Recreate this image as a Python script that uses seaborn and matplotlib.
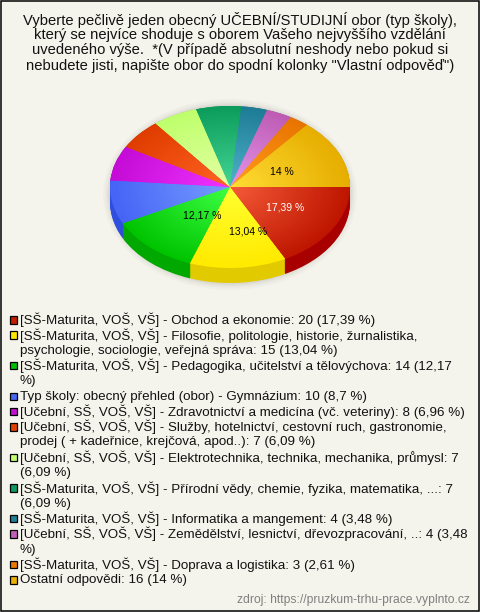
#Koláčový graf 3D z průzkumu (seaborn + matplotlib)
import matplotlib
matplotlib.use("Agg")
import matplotlib.pyplot as plt
import numpy as np
import seaborn as sns
from matplotlib.patches import Ellipse, Rectangle

sns.set_theme(style="white")
plt.rcParams['font.family'] = ['Liberation Sans', 'DejaVu Sans']

#DATOS:
hodnoty = [20, 15, 14, 10, 8, 7, 7, 7, 4, 4, 3, 16]
barvy_stred = ['#F45A38', '#FFFF30', '#3CFF44', '#759CFF', '#F032FF', '#FF6424',
               '#E4FFA4', '#44D494', '#52B2CA', '#E494EA', '#FF9C1C', '#FFDC34']
barvy_okraj = ['#BE1600', '#FFEA00', '#00C400', '#4664F6', '#C40CD6', '#E03C00',
               '#BEFF6C', '#0C9C5C', '#1E7C96', '#BE5CB4', '#E87400', '#E6AE00']
barvy_bok = ['#A80000', '#E2CA00', '#00A800', '#2E4EDE', '#A800B8', '#C03000',
             '#A0E050', '#088048', '#146478', '#A04C98', '#C86000', '#C89800']
barvy_legenda = ['#C02000', '#FFE800', '#00C000', '#4868F0', '#C010D0', '#E04000',
                 '#C0FF70', '#109860', '#208098', '#C060B8', '#E87800', '#E8B000']
titulek = ['Vyberte pečlivě jeden obecný UČEBNÍ/STUDIJNÍ obor (typ školy),',
           'který se nejvíce shoduje s oborem Vašeho nejvyššího vzdělání',
           'uvedeného výše.  *(V případě absolutní neshody nebo pokud si',
           'nebudete jisti, napište obor do spodní kolonky "Vlastní odpověď")']
legenda = [
    ['[SŠ-Maturita, VOŠ, VŠ] - Obchod a ekonomie: 20 (17,39 %)'],
    ['[SŠ-Maturita, VOŠ, VŠ] - Filosofie, politologie, historie, žurnalistika,',
     'psychologie, sociologie, veřejná správa: 15 (13,04 %)'],
    ['[SŠ-Maturita, VOŠ, VŠ] - Pedagogika, učitelství a tělovýchova: 14 (12,17', '%)'],
    ['Typ školy: obecný přehled (obor) - Gymnázium: 10 (8,7 %)'],
    ['[Učební, SŠ, VOŠ, VŠ] - Zdravotnictví a medicína (vč. veteriny): 8 (6,96 %)'],
    ['[Učební, SŠ, VOŠ, VŠ] - Služby, hotelnictví, cestovní ruch, gastronomie,',
     'prodej ( + kadeřnice, krejčová, apod..): 7 (6,09 %)'],
    ['[Učební, SŠ, VOŠ, VŠ] - Elektrotechnika, technika, mechanika, průmysl: 7', '(6,09 %)'],
    ['[SŠ-Maturita, VOŠ, VŠ] - Přírodní vědy, chemie, fyzika, matematika, ...: 7', '(6,09 %)'],
    ['[SŠ-Maturita, VOŠ, VŠ] - Informatika a mangement: 4 (3,48 %)'],
    ['[Učební, SŠ, VOŠ, VŠ] - Zemědělství, lesnictví, dřevozpracování, ..: 4 (3,48', '%)'],
    ['[SŠ-Maturita, VOŠ, VŠ] - Doprava a logistika: 3 (2,61 %)'],
    ['Ostatní odpovědi: 16 (14 %)'],
]
popisky = ['17,39 %', '13,04 %', '12,17 %', '14 %']
zdroj = 'zdroj: https://pruzkum-trhu-prace.vyplnto.cz'

#CONFIGURACIÓN:
SIRKA, VYSKA = 480, 612
POZADI = '#F5F4EC'
CX, CY, RX, RY = 230, 187, 120, 81
HLOUBKA = 15
VEL_TITULEK = 10.6
VEL_TEXT = 9.6
VEL_POPISEK = 7.5

fig = plt.figure(figsize=(SIRKA / 100, VYSKA / 100), dpi=100, facecolor=POZADI)

# Vrstva v pixelech pro rámeček a stín
ax = fig.add_axes([0, 0, 1, 1])
ax.set_xlim(0, SIRKA)
ax.set_ylim(VYSKA, 0)
ax.axis('off')
ax.add_patch(Rectangle((0.75, 0.75), SIRKA - 1.5, VYSKA - 1.5, fill=False, edgecolor='black', linewidth=1.1))

# Jemný stín pod grafem
for roz, alfa in zip([7, 5, 3, 1.5], [0.02, 0.025, 0.03, 0.04]):
    ax.add_patch(Ellipse((CX, CY + HLOUBKA / 2), 2 * (RX + roz), 2 * RY + HLOUBKA + 2 * roz,
                         facecolor='black', edgecolor='none', alpha=alfa))

# Koláč: osa roztažená do elipsy, takže kruh vypadá jako v perspektivě
ymin, ymax = -1.25, 1.05
xmin, xmax = -1.05, 1.05
sirka_osy = (xmax - xmin) * RX
vyska_osy = (ymax - ymin) * RY
ax_pie = fig.add_axes([(CX + xmin * RX) / SIRKA,
                       1 - (CY - ymin * RY) / VYSKA,
                       sirka_osy / SIRKA,
                       vyska_osy / VYSKA])
ax_pie.patch.set_alpha(0)


def kolac(barvy, polomer=1.0, stred=(0, 0)):
    ax_pie.pie(hodnoty, colors=barvy, radius=polomer, center=stred, startangle=0,
               counterclock=False, wedgeprops={'linewidth': 0})


# Bok koláče
for d in np.linspace(HLOUBKA / RY, 0, 16):
    kolac(barvy_bok, stred=(0, -d))

# Vrchní plocha s radiálním přechodem
KROKY = 45
prechody = [sns.blend_palette([o, s], KROKY) for o, s in zip(barvy_okraj, barvy_stred)]
for i, r in enumerate(np.linspace(1, 0.02, KROKY)):
    kolac([p[i] for p in prechody], polomer=r)

ax_pie.set_aspect('auto')
ax_pie.set_xlim(xmin, xmax)
ax_pie.set_ylim(ymin, ymax)
ax_pie.axis('off')

# Popisky v koláči, titulek a legenda nad koláčem
ax_top = fig.add_axes([0, 0, 1, 1])
ax_top.set_xlim(0, SIRKA)
ax_top.set_ylim(VYSKA, 0)
ax_top.axis('off')
ax_top.patch.set_alpha(0)
ax_top.text(285, 207, popisky[0], color='white', fontsize=VEL_POPISEK, ha='center', va='center')
ax_top.text(248, 232, popisky[1], color='black', fontsize=VEL_POPISEK, ha='center', va='center')
ax_top.text(202, 215, popisky[2], color='black', fontsize=VEL_POPISEK, ha='center', va='center')
ax_top.text(282, 172, popisky[3], color='black', fontsize=VEL_POPISEK, ha='center', va='center')

# Titulek
for i, radek in enumerate(titulek):
    ax_top.text(240, 20 + i * 15.2, radek, color='#111111', fontsize=VEL_TITULEK, ha='center', va='center')

# Legenda
y = 320
for polozka, barva in zip(legenda, barvy_legenda):
    ax_top.add_patch(Rectangle((9.5, y - 4), 7.5, 7.5, facecolor=barva, edgecolor='black', linewidth=0.9))
    for radek in polozka:
        ax_top.text(20, y, radek, color='#111111', fontsize=VEL_TEXT, ha='left', va='center')
        y += 15.3

ax_top.text(470, 600, zdroj, color='#808080', fontsize=8.7, ha='right', va='center')

plt.savefig('out.png', dpi=100, facecolor=POZADI)
